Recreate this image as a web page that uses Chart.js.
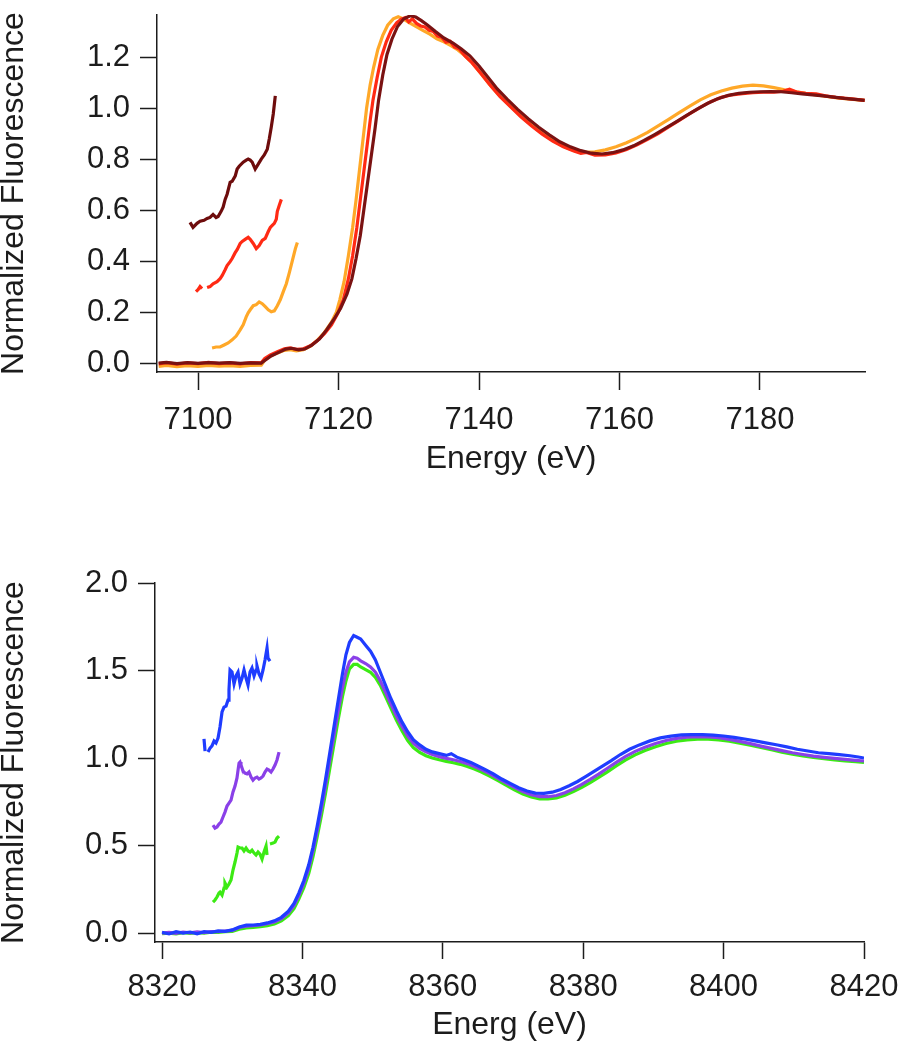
<!DOCTYPE html>
<html>
<head>
<meta charset="utf-8">
<script src="https://cdn.jsdelivr.net/npm/chart.js@4.4.1/dist/chart.umd.min.js"></script>
<style>
  body { margin: 0; background: #fff; }
  canvas { position: absolute; left: 0; }
  #feChart { top: 0; }
  #niChart { top: 500px; }
</style>
</head>
<body>
<canvas id="feChart" width="901" height="500"></canvas>
<canvas id="niChart" width="901" height="550"></canvas>
<script>
// tick labels
const feXTicks = [7100, 7120, 7140, 7160, 7180]
const feYTicks = [0, 0.2, 0.4, 0.6, 0.8, 1.0, 1.2]
const niXTicks = [8320, 8340, 8360, 8380, 8400, 8420]
const niYTicks = [0, 0.5, 1.0, 1.5, 2.0]

// top panel, [energy, normalized fluorescence]
const feDarkRed = [[7094.4,0.000],[7095.5,0.003],[7097,-0.002],[7098.5,0.002],[7100,-0.001],[7101.5,0.002],[7103,0.000],[7104.5,0.002],[7106,-0.001],[7107.5,0.001],[7109,0.000],[7109.6,0.012],[7110.4,0.028],[7111.5,0.042],[7112.5,0.055],[7113.3,0.058],[7114.3,0.052],[7115.2,0.055],[7116.2,0.07],[7117.3,0.095],[7118.3,0.13],[7119.3,0.17],[7120.3,0.215],[7121.2,0.27],[7121.9,0.33],[7122.5,0.41],[7123.1,0.5],[7123.6,0.6],[7124.1,0.7],[7124.6,0.8],[7125.2,0.92],[7125.7,1.03],[7126.3,1.13],[7126.9,1.21],[7127.6,1.27],[7128.4,1.32],[7129.3,1.35],[7130.2,1.362],[7131,1.357],[7131.8,1.343],[7132.7,1.325],[7133.8,1.3],[7135,1.275],[7136.3,1.255],[7137.5,1.232],[7138.7,1.205],[7140,1.165],[7141.3,1.12],[7142.6,1.075],[7144,1.035],[7145.5,0.995],[7147,0.958],[7148.5,0.925],[7150,0.895],[7151.5,0.868],[7153,0.848],[7154.5,0.833],[7156,0.823],[7157.5,0.82],[7159,0.825],[7160.5,0.836],[7162,0.852],[7163.5,0.873],[7165,0.896],[7166.5,0.92],[7168,0.945],[7169.5,0.97],[7171,0.995],[7172.5,1.018],[7174,1.037],[7175.5,1.05],[7177,1.058],[7178.5,1.062],[7180,1.064],[7181.5,1.065],[7183,1.064],[7184.5,1.06],[7186,1.056],[7187.5,1.052],[7189,1.048],[7190.5,1.043],[7192,1.038],[7193.5,1.034],[7194.9,1.03]]
const feRed = [[7094.4,-0.003],[7095.5,0.002],[7097,-0.004],[7098.5,0.001],[7100,-0.002],[7101.5,0.003],[7103,-0.002],[7104.5,0.001],[7106,-0.003],[7107.5,0.002],[7109,0.001],[7109.5,0.018],[7110.3,0.032],[7111.3,0.045],[7112.3,0.056],[7113.1,0.06],[7114,0.054],[7115,0.056],[7116,0.068],[7117,0.088],[7118,0.115],[7119,0.15],[7119.9,0.195],[7120.7,0.25],[7121.4,0.33],[7122,0.42],[7122.6,0.53],[7123.1,0.64],[7123.6,0.75],[7124.1,0.86],[7124.5,0.95],[7124.9,1.03],[7125.5,1.12],[7126.1,1.2],[7126.8,1.26],[7127.5,1.305],[7128.3,1.335],[7129,1.35],[7129.5,1.355],[7130,1.338],[7130.5,1.35],[7131.1,1.332],[7131.7,1.322],[7132.3,1.318],[7132.9,1.305],[7133.5,1.3],[7134.1,1.282],[7134.7,1.277],[7135.3,1.258],[7135.9,1.262],[7136.5,1.24],[7137.2,1.232],[7138,1.205],[7139,1.178],[7140.3,1.135],[7141.6,1.09],[7143,1.045],[7144.5,1.005],[7146,0.965],[7147.5,0.93],[7149,0.898],[7150.5,0.87],[7152,0.848],[7153.5,0.832],[7154.5,0.822],[7155.3,0.826],[7156.5,0.815],[7158,0.816],[7159.5,0.824],[7161,0.838],[7162.5,0.856],[7164,0.877],[7165.5,0.9],[7167,0.926],[7168.5,0.952],[7170,0.978],[7171.5,1.003],[7173,1.025],[7174.5,1.042],[7176,1.052],[7177.5,1.057],[7179,1.06],[7180.5,1.062],[7182,1.062],[7183.3,1.066],[7184.2,1.074],[7185.2,1.063],[7186.5,1.058],[7188,1.056],[7189.3,1.048],[7190.8,1.042],[7192.3,1.038],[7193.7,1.034],[7194.9,1.03]]
const feOrange = [[7094.4,-0.013],[7095.5,-0.009],[7097,-0.014],[7098.5,-0.01],[7100,-0.013],[7101.5,-0.009],[7103,-0.012],[7104.5,-0.01],[7106,-0.013],[7107.5,-0.009],[7109,-0.008],[7109.5,0.012],[7110.3,0.028],[7111.3,0.04],[7112.3,0.05],[7113.1,0.053],[7114,0.048],[7115,0.052],[7116,0.066],[7117,0.09],[7118,0.12],[7119,0.16],[7119.7,0.2],[7120.2,0.25],[7120.8,0.32],[7121.4,0.42],[7122,0.53],[7122.5,0.64],[7123,0.76],[7123.5,0.88],[7124,1.0],[7124.5,1.09],[7125,1.16],[7125.6,1.23],[7126.3,1.285],[7127,1.325],[7127.8,1.35],[7128.5,1.358],[7129.2,1.35],[7130,1.336],[7131,1.32],[7132,1.305],[7133,1.29],[7134,1.272],[7135,1.26],[7136,1.245],[7137,1.228],[7138,1.205],[7139,1.178],[7140.3,1.135],[7141.6,1.09],[7143,1.047],[7144.5,1.007],[7146,0.968],[7147.5,0.933],[7149,0.901],[7150.5,0.873],[7152,0.85],[7153.5,0.834],[7155,0.826],[7156.5,0.828],[7158,0.836],[7159.5,0.848],[7161,0.864],[7162.5,0.883],[7164,0.905],[7165.5,0.93],[7167,0.956],[7168.5,0.982],[7170,1.008],[7171.5,1.032],[7173,1.052],[7174.5,1.067],[7176,1.078],[7177.5,1.086],[7179,1.09],[7180.5,1.087],[7182,1.08],[7183.5,1.072],[7185,1.065],[7186.5,1.058],[7188,1.052],[7189.5,1.046],[7191,1.04],[7192.5,1.036],[7194,1.032],[7194.9,1.03]]

// top panel pre-edge insets (already offset in the figure)
const feDarkRedPre = [[7098.86,0.552],[7099.29,0.532],[7099.86,0.548],[7100.29,0.556],[7100.86,0.560],[7101.29,0.567],[7101.71,0.571],[7102.14,0.583],[7102.57,0.571],[7102.86,0.575],[7103.29,0.595],[7103.57,0.611],[7103.86,0.642],[7104.14,0.662],[7104.57,0.709],[7104.86,0.713],[7105.29,0.733],[7105.57,0.761],[7105.86,0.772],[7106.43,0.788],[7106.86,0.796],[7107.14,0.800],[7107.43,0.796],[7107.71,0.788],[7108.14,0.761],[7108.57,0.780],[7109.0,0.800],[7109.43,0.816],[7109.86,0.839],[7110.14,0.879],[7110.43,0.926],[7110.71,0.977],[7111.0,1.048]]
const feRedPre = [[7099.71,0.280],[7100.0,0.288],[7100.29,0.300],[7100.57,0.292],[7100.9,null],[7101.29,0.296],[7101.71,0.300],[7102.14,0.311],[7102.71,0.319],[7103.14,0.331],[7103.43,0.343],[7103.86,0.366],[7104.14,0.382],[7104.57,0.398],[7104.86,0.410],[7105.29,0.433],[7105.57,0.445],[7106.0,0.469],[7106.29,0.477],[7106.71,0.485],[7107.14,0.493],[7107.43,0.485],[7107.86,0.469],[7108.29,0.449],[7108.71,0.461],[7109.14,0.481],[7109.57,0.489],[7110.0,0.516],[7110.29,0.532],[7110.57,0.540],[7110.86,0.548],[7111.14,0.564],[7111.29,0.595],[7111.57,0.619],[7111.86,0.642]]
const feOrangePre = [[7102.0,0.059],[7102.57,0.063],[7103.14,0.063],[7103.71,0.071],[7104.29,0.079],[7104.86,0.091],[7105.43,0.106],[7106.0,0.130],[7106.43,0.150],[7106.86,0.181],[7107.14,0.197],[7107.43,0.209],[7107.86,0.225],[7108.29,0.229],[7108.71,0.240],[7109.14,0.233],[7109.57,0.221],[7110.0,0.209],[7110.43,0.201],[7110.86,0.205],[7111.29,0.225],[7111.71,0.248],[7112.14,0.280],[7112.57,0.311],[7113.0,0.355],[7113.43,0.402],[7113.86,0.449],[7114.14,0.473]]

// bottom panel, [energy, normalized fluorescence]
const niBlue = [[8320,0.005],[8321,-0.005],[8322,0.008],[8323,0.0],[8324,0.006],[8325,-0.004],[8326,0.008],[8327,0.004],[8328,0.012],[8329,0.01],[8330,0.018],[8331,0.035],[8332,0.045],[8333,0.046],[8334,0.05],[8335,0.058],[8336,0.07],[8337,0.09],[8338,0.125],[8338.8,0.17],[8339.5,0.23],[8340.2,0.3],[8340.9,0.39],[8341.5,0.49],[8342.1,0.61],[8342.7,0.74],[8343.3,0.88],[8343.9,1.03],[8344.5,1.18],[8345.1,1.33],[8345.7,1.48],[8346.2,1.59],[8346.7,1.66],[8347.3,1.7],[8347.8,1.69],[8348.3,1.68],[8349,1.645],[8349.7,1.61],[8350.4,1.56],[8351.1,1.49],[8351.8,1.42],[8352.6,1.34],[8353.4,1.27],[8354.2,1.205],[8355,1.15],[8355.8,1.105],[8356.7,1.075],[8357.6,1.05],[8358.5,1.035],[8359.5,1.025],[8360.5,1.015],[8361.2,1.025],[8362,1.005],[8363,0.99],[8364,0.975],[8365,0.955],[8366,0.935],[8367.2,0.91],[8368.4,0.88],[8369.6,0.855],[8370.8,0.83],[8372,0.812],[8373.2,0.8],[8374.4,0.798],[8375.6,0.805],[8376.8,0.82],[8378,0.842],[8379.2,0.866],[8380.4,0.895],[8381.6,0.925],[8382.8,0.955],[8384,0.985],[8385.3,1.02],[8386.6,1.05],[8388,1.075],[8389.5,1.098],[8391,1.115],[8392.5,1.125],[8394,1.132],[8395.5,1.134],[8397,1.134],[8398.5,1.131],[8400,1.126],[8401.5,1.118],[8403,1.109],[8404.5,1.098],[8406,1.087],[8407.5,1.076],[8409,1.064],[8410.5,1.05],[8412,1.04],[8413.5,1.03],[8415,1.025],[8416.5,1.019],[8418,1.013],[8419.2,1.006],[8420,1.0]]
const niPurple = [[8320,0.0],[8321,0.004],[8322,-0.002],[8323,0.006],[8324,0.001],[8325,0.007],[8326,0.003],[8327,0.009],[8328,0.008],[8329,0.012],[8330,0.015],[8331,0.032],[8332,0.04],[8333,0.042],[8334,0.046],[8335,0.053],[8336,0.064],[8337,0.083],[8338,0.115],[8338.8,0.158],[8339.5,0.215],[8340.2,0.285],[8340.9,0.37],[8341.5,0.47],[8342.1,0.585],[8342.7,0.71],[8343.3,0.845],[8343.9,0.99],[8344.5,1.13],[8345.1,1.27],[8345.7,1.4],[8346.2,1.49],[8346.7,1.55],[8347.3,1.575],[8347.8,1.57],[8348.3,1.555],[8349,1.54],[8349.7,1.52],[8350.4,1.49],[8351.1,1.44],[8351.8,1.38],[8352.6,1.31],[8353.4,1.24],[8354.2,1.18],[8355,1.125],[8355.8,1.085],[8356.7,1.055],[8357.6,1.035],[8358.5,1.02],[8359.5,1.008],[8360.5,0.998],[8361.5,0.99],[8362.5,0.98],[8363.5,0.968],[8364.5,0.952],[8365.5,0.934],[8366.6,0.912],[8367.8,0.885],[8369,0.858],[8370.2,0.832],[8371.4,0.808],[8372.6,0.79],[8373.8,0.78],[8375,0.779],[8376.2,0.786],[8377.4,0.802],[8378.6,0.824],[8379.8,0.85],[8381,0.878],[8382.2,0.908],[8383.4,0.94],[8384.7,0.975],[8386,1.008],[8387.4,1.038],[8388.8,1.062],[8390.3,1.083],[8391.8,1.1],[8393.3,1.112],[8394.8,1.119],[8396.3,1.122],[8397.8,1.121],[8399.3,1.116],[8400.8,1.107],[8402.3,1.095],[8403.8,1.082],[8405.3,1.068],[8406.8,1.055],[8408.3,1.042],[8409.8,1.03],[8411.3,1.02],[8412.8,1.011],[8414.3,1.004],[8415.8,0.998],[8417.3,0.992],[8418.8,0.987],[8420,0.983]]
const niGreen = [[8320,-0.004],[8321,0.0],[8322,-0.005],[8323,0.002],[8324,-0.002],[8325,0.003],[8326,0.0],[8327,0.005],[8328,0.004],[8329,0.008],[8330,0.01],[8331,0.022],[8332,0.03],[8333,0.032],[8334,0.036],[8335,0.042],[8336,0.052],[8337,0.07],[8338,0.1],[8338.8,0.14],[8339.5,0.195],[8340.2,0.26],[8340.9,0.34],[8341.5,0.435],[8342.1,0.55],[8342.7,0.67],[8343.3,0.8],[8343.9,0.94],[8344.5,1.08],[8345.1,1.22],[8345.7,1.35],[8346.2,1.44],[8346.7,1.51],[8347.3,1.535],[8347.8,1.535],[8348.3,1.52],[8349,1.505],[8349.7,1.49],[8350.4,1.46],[8351.1,1.415],[8351.8,1.355],[8352.6,1.285],[8353.4,1.215],[8354.2,1.155],[8355,1.1],[8355.8,1.06],[8356.7,1.032],[8357.6,1.013],[8358.5,1.0],[8359.5,0.99],[8360.5,0.981],[8361.5,0.973],[8362.5,0.964],[8363.5,0.952],[8364.5,0.937],[8365.5,0.92],[8366.6,0.898],[8367.8,0.872],[8369,0.845],[8370.2,0.818],[8371.4,0.795],[8372.6,0.777],[8373.8,0.767],[8375,0.766],[8376.2,0.772],[8377.4,0.787],[8378.6,0.808],[8379.8,0.833],[8381,0.86],[8382.2,0.889],[8383.4,0.92],[8384.7,0.955],[8386,0.988],[8387.4,1.018],[8388.8,1.043],[8390.3,1.065],[8391.8,1.083],[8393.3,1.096],[8394.8,1.104],[8396.3,1.108],[8397.8,1.108],[8399.3,1.104],[8400.8,1.096],[8402.3,1.085],[8403.8,1.073],[8405.3,1.06],[8406.8,1.047],[8408.3,1.034],[8409.8,1.022],[8411.3,1.012],[8412.8,1.003],[8414.3,0.996],[8415.8,0.99],[8417.3,0.984],[8418.8,0.979],[8420,0.975]]

// bottom panel pre-edge insets
const niBluePre = [[8325.98,1.109],[8326.13,1.04],[8326.35,null],[8326.55,1.034],[8326.84,1.057],[8327.12,1.069],[8327.41,1.097],[8327.69,1.086],[8327.98,1.114],[8328.26,1.177],[8328.55,1.263],[8328.83,1.291],[8329.12,1.297],[8329.40,1.331],[8329.54,1.389],[8329.69,1.503],[8329.97,1.491],[8330.26,1.423],[8330.54,1.469],[8330.83,1.491],[8331.11,1.423],[8331.40,1.457],[8331.68,1.503],[8331.97,1.457],[8332.25,1.417],[8332.54,1.491],[8332.82,1.514],[8333.11,1.469],[8333.39,1.503],[8333.53,1.526],[8333.82,1.48],[8334.10,1.457],[8334.39,1.503],[8334.67,1.56],[8334.96,1.629],[8335.10,1.571],[8335.38,1.554]]
const niPurplePre = [[8327.26,0.617],[8327.55,0.6],[8327.83,0.606],[8328.12,0.623],[8328.40,0.634],[8328.69,0.663],[8328.97,0.691],[8329.26,0.726],[8329.54,0.743],[8329.83,0.76],[8330.11,0.806],[8330.40,0.84],[8330.68,0.886],[8330.83,0.931],[8330.97,0.971],[8331.11,0.977],[8331.25,0.96],[8331.54,0.926],[8331.82,0.914],[8332.11,0.909],[8332.39,0.92],[8332.68,0.891],[8332.96,0.874],[8333.25,0.886],[8333.53,0.891],[8333.82,0.88],[8334.10,0.886],[8334.39,0.897],[8334.67,0.92],[8334.96,0.937],[8335.24,0.931],[8335.53,0.92],[8335.81,0.937],[8336.10,0.96],[8336.38,0.989],[8336.67,1.034]]
const niGreenPre = [[8327.26,0.177],[8327.55,0.189],[8327.83,0.206],[8328.12,0.229],[8328.26,0.234],[8328.55,0.217],[8328.83,0.257],[8328.97,0.286],[8329.26,0.263],[8329.54,0.28],[8329.83,0.303],[8330.11,0.36],[8330.40,0.406],[8330.68,0.457],[8330.83,0.491],[8331.11,0.486],[8331.40,0.486],[8331.68,0.469],[8331.97,0.486],[8332.25,0.469],[8332.54,0.463],[8332.82,0.474],[8333.11,0.457],[8333.39,0.446],[8333.68,0.463],[8333.96,0.451],[8334.25,0.423],[8334.53,0.463],[8334.82,0.497],[8334.96,0.446],[8335.15,null],[8335.38,0.509],[8335.81,0.514],[8336.10,0.52],[8336.38,0.543],[8336.67,0.554]]

const fontFamily = '"Liberation Sans", Arial, sans-serif'
const ink = '#1c1c1c'

function series(points, color) {
    return {
        data: points.map(p => ({ x: p[0], y: p[1] })),
        borderColor: color,
        borderWidth: 3.2,
        pointRadius: 0,
        fill: false,
        tension: 0,
        spanGaps: false
    }
}

function buildChart(canvasId, datasets, cfg) {
    return new Chart(document.getElementById(canvasId), {
        type: 'line',
        data: { datasets: datasets },
        options: {
            responsive: false,
            animation: false,
            devicePixelRatio: 1,
            layout: { padding: cfg.padding },
            plugins: { legend: { display: false }, tooltip: { enabled: false } },
            scales: {
                x: {
                    type: 'linear',
                    min: cfg.xMin,
                    max: cfg.xMax,
                    afterBuildTicks: s => { s.ticks = cfg.xTicks.map(v => ({ value: v })) },
                    afterFit: s => { s.height = cfg.xAxisHeight; s.paddingLeft = 0; s.paddingRight = 0 },
                    ticks: {
                        autoSkip: false, maxRotation: 0, minRotation: 0,
                        padding: cfg.xLabelPad, color: ink,
                        font: { family: fontFamily, size: 31 },
                        callback: v => String(v)
                    },
                    grid: { drawOnChartArea: false, drawTicks: true, tickLength: cfg.xTickLength, color: ink, tickColor: ink, tickWidth: 1.5 },
                    border: { display: true, color: ink, width: 1.5 },
                    title: { display: true, text: cfg.xTitle, color: ink, padding: 0, font: { family: fontFamily, size: 32, lineHeight: 1.2 } }
                },
                y: {
                    type: 'linear',
                    min: cfg.yMin,
                    max: cfg.yMax,
                    afterBuildTicks: s => { s.ticks = cfg.yTicks.map(v => ({ value: v })) },
                    afterFit: s => { s.width = cfg.yAxisWidth; s.paddingTop = 0; s.paddingBottom = 0 },
                    ticks: {
                        padding: 10, color: ink,
                        font: { family: fontFamily, size: 31 },
                        callback: v => Number(v).toFixed(1)
                    },
                    grid: { drawOnChartArea: false, drawTicks: true, tickLength: 17, color: ink, tickColor: ink, tickWidth: 1.5 },
                    border: { display: true, color: ink, width: 1.5 },
                    title: { display: true, text: 'Normalized Fluorescence', color: ink, padding: 0, font: { family: fontFamily, size: 32, lineHeight: 0.9 } }
                }
            }
        }
    })
}

function main() {
    buildChart('feChart', [
        series(feDarkRed, '#7a1212'),
        series(feRed, '#ff2a14'),
        series(feOrange, '#ffa828'),
        series(feDarkRedPre, '#6e0c0c'),
        series(feRedPre, '#ff2a14'),
        series(feOrangePre, '#ffa828')
    ], {
        padding: { left: 0, top: 15, right: 36, bottom: 22 },
        xMin: 7094.16, xMax: 7194.95, xTicks: feXTicks,
        yMin: -0.035, yMax: 1.365, yTicks: feYTicks,
        xAxisHeight: 106, yAxisWidth: 157,
        xLabelPad: 12, xTickLength: 18,
        xTitle: 'Energy (eV)'
    })

    buildChart('niChart', [
        series(niBlue, '#1f3cff'),
        series(niPurple, '#8a40e8'),
        series(niGreen, '#3cea14'),
        series(niBluePre, '#1f3cff'),
        series(niPurplePre, '#8a40e8'),
        series(niGreenPre, '#3cea14')
    ], {
        padding: { left: 0, top: 83, right: 37, bottom: 6 },
        xMin: 8319.0, xMax: 8420, xTicks: niXTicks,
        yMin: -0.051, yMax: 2.0, yTicks: niYTicks,
        xAxisHeight: 102, yAxisWidth: 155,
        xLabelPad: 10, xTickLength: 17,
        xTitle: 'Energ (eV)'
    })
}

main()
</script>
</body>
</html>
